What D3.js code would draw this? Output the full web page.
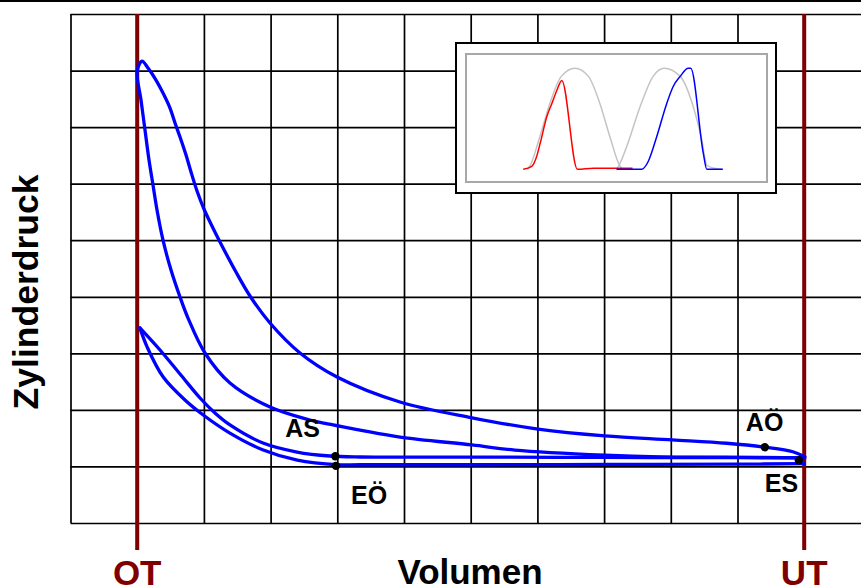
<!DOCTYPE html>
<html>
<head>
<meta charset="utf-8">
<script src="https://cdn.jsdelivr.net/npm/d3@7"></script>
<style>
  html, body { margin: 0; padding: 0; background: #fff; }
  svg { display: block; font-family: "Liberation Sans", Arial, Helvetica, sans-serif; }
</style>
</head>
<body>
<svg id="chart" width="861" height="585"></svg>
<script>
// ---- data: p-V diagram (volume in grid units, pressure in grid units) ----
const volumeTicks = [0, 1, 2, 3, 4, 5, 6, 7, 8, 9, 10, 11];
const pressureTicks = [0, 1, 2, 3, 4, 5, 6, 7, 8, 9];
const deadCentres = [{ name: "OT", v: 1 }, { name: "UT", v: 11 }];

// compression from ES up to OT
const compressionStroke = [
  [11.01, 1.15], [9.84, 1.165], [8.84, 1.17], [8.01, 1.20], [6.66, 1.29], [6.02, 1.38],
  [4.94, 1.52], [4.34, 1.644], [3.936, 1.733], [3.591, 1.821], [2.991, 2.051], [2.391, 2.475],
  [2.016, 3.006], [1.762, 3.624], [1.642, 3.996], [1.507, 4.473], [1.387, 5.00], [1.297, 5.534],
  [1.237, 5.976], [1.177, 6.418], [1.117, 6.948], [1.057, 7.479], [1.00, 7.99]
];
// combustion peak and expansion down to UT
const expansionStroke = [
  [1.072, 8.168], [1.162, 8.045], [1.282, 7.832], [1.387, 7.603], [1.492, 7.337], [1.567, 7.072],
  [1.642, 6.825], [1.732, 6.506], [1.807, 6.206], [1.897, 5.870], [2.001, 5.552], [2.121, 5.251],
  [2.241, 4.969], [2.481, 4.438], [2.691, 4.014], [2.991, 3.536], [3.441, 3.006], [3.996, 2.581],
  [4.940, 2.139], [6.02, 1.86], [7.01, 1.66], [8.01, 1.54], [9.02, 1.47], [9.84, 1.41],
  [10.41, 1.34], [10.83, 1.26], [11.01, 1.17]
];
// gas-exchange loop
const exhaustBranch = [
  [1.04, 3.45], [1.342, 3.059], [1.642, 2.634], [1.942, 2.210], [2.166, 1.945], [2.391, 1.733],
  [2.886, 1.414], [3.396, 1.255], [3.891, 1.185], [4.34, 1.167], [6.00, 1.165], [8.00, 1.16],
  [10.00, 1.155], [11.00, 1.15]
];
const intakeBranch = [
  [1.04, 3.45], [1.15, 3.11], [1.39, 2.58], [1.72, 2.17], [1.99, 1.91], [2.39, 1.59],
  [2.89, 1.29], [3.40, 1.11], [4.00, 1.03], [4.34, 1.03], [6.00, 1.03], [8.00, 1.035],
  [10.00, 1.04], [11.00, 1.05]
];
// valve timing points
const timingLabels = ["AS", "EÖ", "AÖ", "ES"];
const timingVolume = [3.97, 3.98, 10.41, 10.92];
const timingPressure = [1.18, 1.01, 1.34, 1.11];

// inset: valve lift over crank angle (degrees, lift 0..1)
const pistonHumpA = [
  [122, 0], [127, 0.03], [147, 0.32], [167, 0.65], [190, 0.92], [217, 1.0],
  [244, 0.92], [267, 0.65], [287, 0.32], [307, 0.03], [312, 0]
];
const pistonHumpB = [
  [300, 0], [304, 0.03], [320, 0.22], [347, 0.62], [373, 0.92], [395, 1.0],
  [427, 0.92], [453, 0.62], [470, 0.29], [480, 0.04], [495, 0.01], [510, 0]
];
const exhaustLift = [
  [114, 0], [131, 0.03], [141, 0.13], [148, 0.26], [161, 0.52], [171, 0.65],
  [181, 0.78], [191, 0.88], [222, 0], [254, 0.01], [332, 0.01]
];
const intakeLift = [
  [300, 0], [350, 0], [363, 0.075], [380, 0.32], [400, 0.65], [413, 0.82],
  [427, 0.92], [443, 1.0], [448, 1.0], [473, 0.16], [480, 0], [512, 0]
];

// ---- drawing ----
const svg = d3.select("#chart");
const W = 861;

const x = d3.scaleLinear().domain([0, 11]).range([70.5, 804.2]);
const y = d3.scaleLinear().domain([0, 9]).range([523, 14]);

// top rule
svg.append("line").attr("x1", 0).attr("x2", W).attr("y1", 1).attr("y2", 1)
  .attr("stroke", "#000").attr("stroke-width", 2.2);

// grid through axes
const gridH = svg.append("g").attr("transform", `translate(${x(0)},0)`)
  .call(d3.axisLeft(y).tickValues(pressureTicks).tickSize(-(W - x(0))).tickFormat(""));
const gridV = svg.append("g").attr("transform", `translate(0,${y(0)})`)
  .call(d3.axisBottom(x).tickValues(volumeTicks).tickSize(-(y(0) - y(9))).tickFormat(""));
[gridH, gridV].forEach(g => {
  g.select(".domain").remove();
  g.selectAll(".tick line").attr("stroke", "#000").attr("stroke-width", 1.7);
});

// dead-centre markers
svg.selectAll("line.dc").data(deadCentres).join("line").attr("class", "dc")
  .attr("x1", d => x(d.v)).attr("x2", d => x(d.v))
  .attr("y1", y(9)).attr("y2", 550)
  .attr("stroke", "#7f0000").attr("stroke-width", 4);
svg.selectAll("text.dc").data(deadCentres).join("text").attr("class", "dc")
  .attr("x", d => x(d.v)).attr("y", 585)
  .attr("text-anchor", "middle").attr("font-weight", "bold").attr("font-size", 35)
  .attr("fill", "#800000").text(d => d.name);

// axis titles
svg.append("text").attr("x", 470).attr("y", 584).attr("text-anchor", "middle")
  .attr("font-weight", "bold").attr("font-size", 35).text("Volumen");
svg.append("text").attr("transform", "translate(38,292) rotate(-90)")
  .attr("text-anchor", "middle").attr("font-weight", "bold").attr("font-size", 35.5)
  .text("Zylinderdruck");

// inset with valve lift curves
const ix = d3.scaleLinear().domain([0, 600]).range([466, 767]);
const iy = d3.scaleLinear().domain([0, 1]).range([169.3, 68.3]);
const inset = svg.append("g");
inset.append("rect").attr("x", 456).attr("y", 43).attr("width", 320).attr("height", 150)
  .attr("fill", "#fff").attr("stroke", "#000").attr("stroke-width", 2);
inset.append("rect").attr("x", 466).attr("y", 54).attr("width", 301).attr("height", 128)
  .attr("fill", "#fff").attr("stroke", "#a8a8a8").attr("stroke-width", 2);
const liftLine = d3.line().x(d => ix(d[0])).y(d => iy(d[1])).curve(d3.curveMonotoneX);
[[pistonHumpA, "#c4c4c4"], [pistonHumpB, "#c4c4c4"], [exhaustLift, "#ff0000"], [intakeLift, "#0000ff"]]
  .forEach(([pts, col]) => {
    inset.append("path").attr("d", liftLine(pts)).attr("fill", "none")
      .attr("stroke", col).attr("stroke-width", 1.5);
  });

// p-V curves
const pv = d3.line().x(d => x(d[0])).y(d => y(d[1])).curve(d3.curveCatmullRom.alpha(0.5));
const curves = [compressionStroke.concat(expansionStroke), exhaustBranch, intakeBranch];
svg.selectAll("path.pv").data(curves).join("path").attr("class", "pv")
  .attr("d", pv).attr("fill", "none").attr("stroke", "#0000ff")
  .attr("stroke-width", 3.3).attr("stroke-linejoin", "round").attr("stroke-linecap", "round");

// valve timing points and labels
const labelOffset = { "AS": [-50, -19], "EÖ": [15, 38], "AÖ": [-19, -16], "ES": [-34, 32] };
timingLabels.forEach((lab, i) => {
  const cx = x(timingVolume[i]), cy = y(timingPressure[i]);
  svg.append("circle").attr("cx", cx).attr("cy", cy).attr("r", 4.2).attr("fill", "#000");
  svg.append("text").attr("x", cx + labelOffset[lab][0]).attr("y", cy + labelOffset[lab][1])
    .attr("font-weight", "bold").attr("font-size", 25).text(lab);
});
</script>
</body>
</html>
